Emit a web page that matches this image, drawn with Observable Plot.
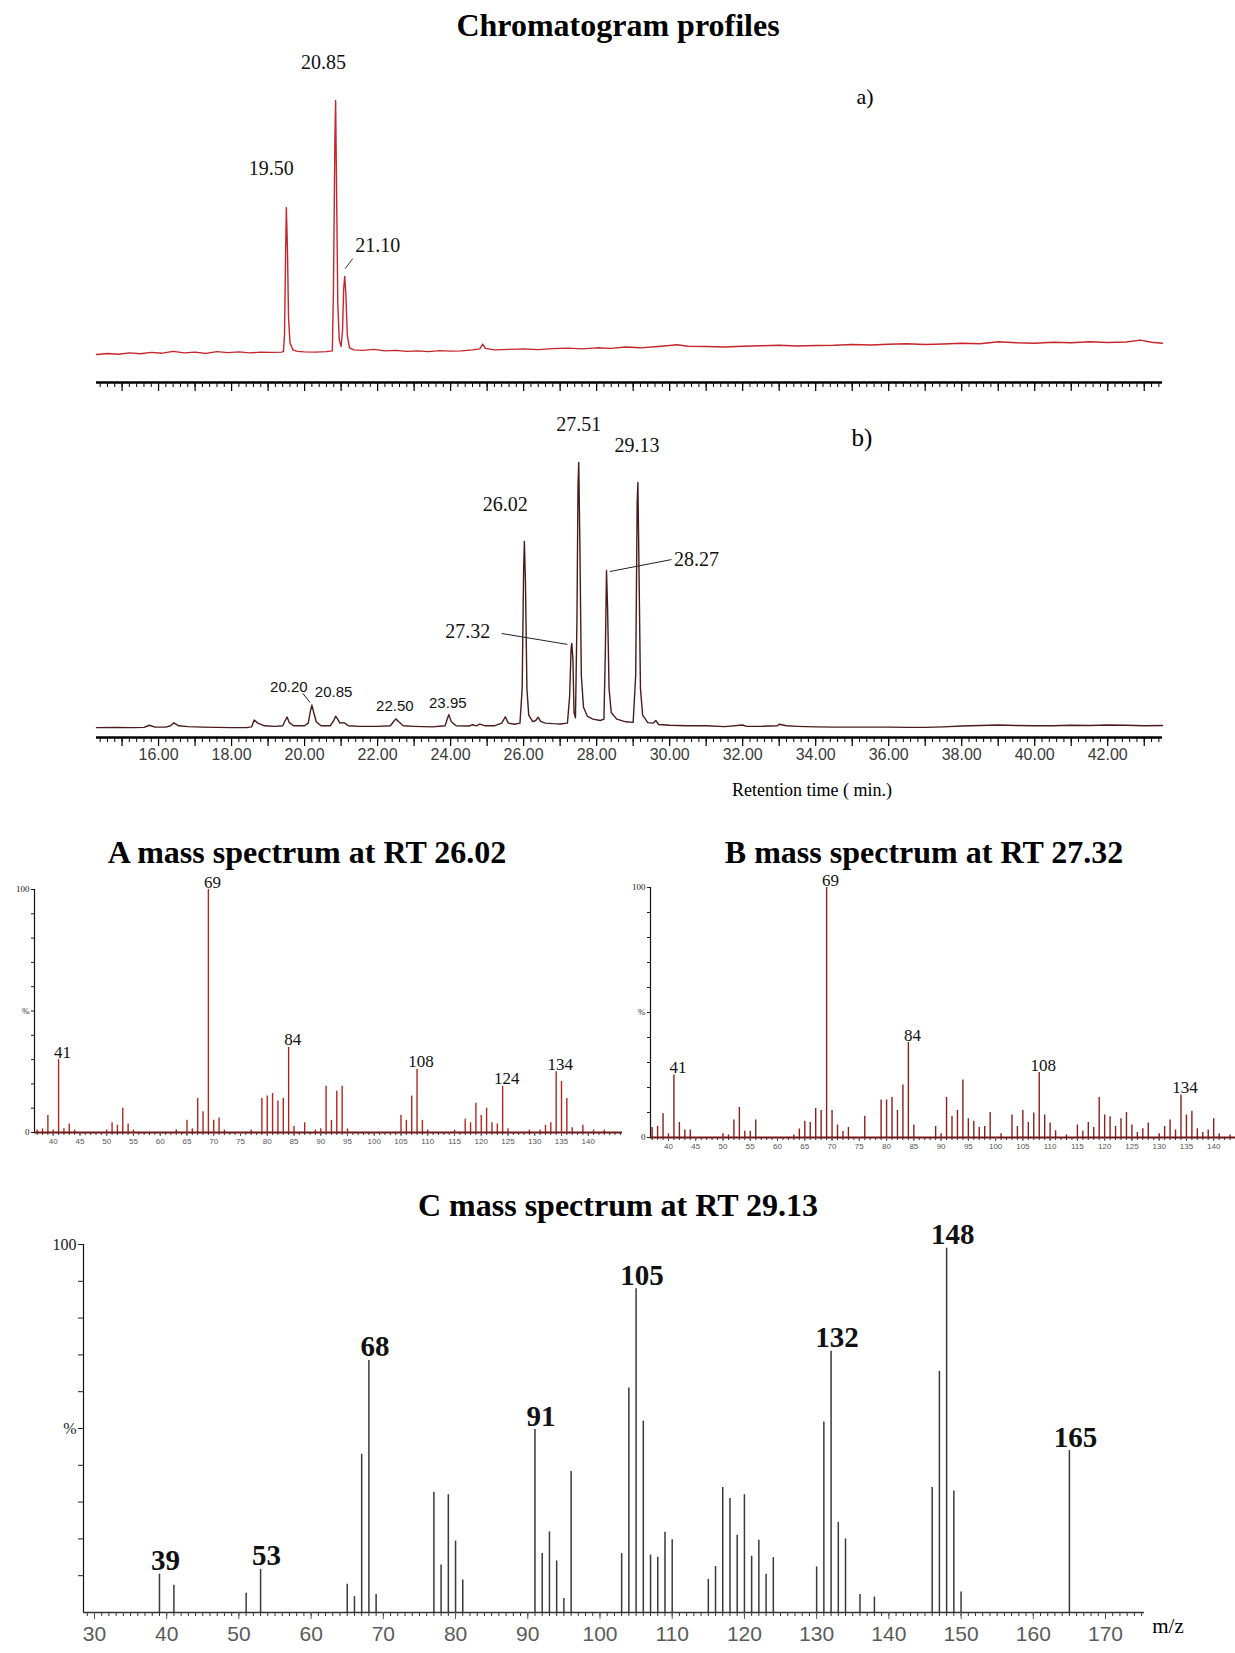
<!DOCTYPE html>
<html><head><meta charset="utf-8">
<script src="https://cdn.jsdelivr.net/npm/d3@7"></script>
<script src="https://cdn.jsdelivr.net/npm/@observablehq/plot@0.6"></script>
<style>
body{margin:0;background:#fff;}
#page{position:relative;width:1235px;height:1653px;overflow:hidden;background:#fff;}
.lbl{position:absolute;transform:translate(-50%,-50%);white-space:nowrap;line-height:1;color:#000;}
</style></head><body><div id="page"></div>
<script>
// ================= DATA =================
// Chromatogram tick labels (retention time, min)
const rtTickLabels = [16, 18, 20, 22, 24, 26, 28, 30, 32, 34, 36, 38, 40, 42];

// Chromatogram a) trace: [retention time, relative intensity %]
const aTrace = [
  [14.30,0.4],[14.6,0.8],[14.9,0.5],[15.2,1.0],[15.5,0.7],[15.8,1.2],[16.1,0.9],[16.4,1.6],[16.7,1.0],[17.0,1.3],
  [17.3,0.8],[17.6,1.5],[17.9,1.1],[18.2,1.4],[18.5,1.0],[18.8,1.3],[19.1,1.2],[19.38,1.3],
  [19.42,1.6],[19.45,8],[19.48,40],[19.50,58],[19.53,42],[19.56,15],[19.60,5],[19.68,2.2],[19.8,1.6],[20.0,1.4],
  [20.3,1.3],[20.6,1.5],[20.76,1.8],[20.79,25],[20.83,85],[20.85,100],[20.88,60],[20.91,20],[20.95,6],[21.00,3.5],
  [21.04,10],[21.07,26],[21.10,31],[21.13,24],[21.17,8],[21.23,3],[21.35,2.2],[21.6,2.0],[21.9,2.4],[22.2,1.8],
  [22.5,2.0],[22.8,1.6],[23.1,1.8],[23.4,1.5],[23.7,1.9],[24.0,1.7],[24.3,1.8],[24.6,2.2],[24.8,2.6],[24.88,4.5],
  [24.95,2.8],[25.2,2.2],[25.6,2.4],[26.0,2.6],[26.4,2.3],[26.8,2.7],[27.2,2.9],[27.6,2.6],[28.0,3.0],[28.4,2.8],
  [28.8,3.3],[29.2,3.0],[29.6,3.4],[30.0,3.9],[30.2,4.2],[30.5,3.6],[31.0,3.5],[31.5,3.3],[32.0,3.6],[32.5,3.8],
  [33.0,4.0],[33.5,3.7],[34.0,3.9],[34.5,4.0],[35.0,4.3],[35.5,4.1],[36.0,4.4],[36.5,4.6],[37.0,4.3],[37.5,4.5],
  [38.0,4.8],[38.5,4.6],[39.0,5.4],[39.5,5.0],[40.0,4.8],[40.5,5.2],[41.0,5.0],[41.5,5.4],[42.0,5.1],[42.5,5.3],
  [42.9,6.0],[43.2,5.2],[43.5,4.8]
];
const aPeakRT = [19.50, 20.85, 21.10];
const aPeakHeight = [58, 100, 31];

// Chromatogram b) trace: [retention time, relative intensity %]
const bTrace = [
  [14.3,0.3],[14.8,0.4],[15.3,0.3],[15.6,0.4],[15.75,1.2],[15.9,0.5],[16.2,0.5],[16.33,1.0],[16.42,2.1],[16.55,1.0],
  [16.8,0.7],[17.2,0.5],[17.6,0.4],[18.0,0.3],[18.4,0.3],[18.55,0.6],[18.62,3.2],[18.72,2.0],[18.9,1.0],[19.2,0.8],
  [19.4,1.0],[19.47,3.0],[19.52,4.3],[19.58,2.2],[19.7,1.0],[20.0,1.0],[20.1,2.0],[20.16,6.5],[20.20,8.8],[20.25,6.0],
  [20.32,2.5],[20.45,1.0],[20.7,1.0],[20.8,3.0],[20.85,4.6],[20.9,3.6],[20.97,2.0],[21.05,2.2],[21.1,2.0],[21.2,1.0],
  [21.5,0.8],[22.0,0.8],[22.35,1.0],[22.45,2.8],[22.50,3.6],[22.58,2.5],[22.7,1.0],[23.0,0.8],[23.5,0.6],[23.85,1.0],
  [23.92,4.0],[23.95,5.2],[24.02,2.5],[24.15,1.0],[24.5,0.9],[24.6,1.4],[24.7,1.0],[24.8,1.6],[24.95,1.0],[25.2,1.0],
  [25.4,2.0],[25.5,4.4],[25.58,2.0],[25.75,1.6],[25.9,2.0],[25.96,15],[26.00,60],[26.02,70.3],[26.05,55],[26.09,15],
  [26.14,5],[26.25,2.6],[26.33,3.0],[26.40,4.2],[26.47,2.6],[26.6,2.0],[26.8,1.8],[27.0,1.7],[27.2,2.0],[27.26,12],
  [27.30,30],[27.32,32],[27.35,26],[27.38,6],[27.42,4],[27.46,40],[27.49,92],[27.51,100],[27.54,70],[27.58,20],
  [27.64,8],[27.75,4.5],[27.9,3.5],[28.1,3.0],[28.2,3.5],[28.24,30],[28.27,59.4],[28.30,45],[28.34,15],[28.40,6],
  [28.55,3.5],[28.8,2.5],[29.0,2.3],[29.07,20],[29.11,85],[29.13,92.5],[29.16,60],[29.2,15],[29.26,5],[29.4,2.2],
  [29.55,2.0],[29.62,3.0],[29.7,1.5],[30.0,1.2],[30.5,1.0],[31.0,1.0],[31.5,0.7],[32.0,1.3],[32.1,0.8],[32.5,0.8],
  [32.95,1.0],[33.0,1.6],[33.2,1.0],[33.5,0.8],[34.0,0.6],[34.5,0.5],[35.0,0.5],[35.5,0.5],[36.0,0.5],[36.5,0.4],
  [37.0,0.4],[37.5,0.6],[38.0,0.9],[38.5,1.1],[39.0,1.3],[39.5,1.1],[40.0,1.0],[40.5,1.0],[41.0,1.2],[41.5,1.1],
  [42.0,1.3],[42.5,1.2],[43.0,1.0],[43.5,1.1]
];
const bPeakRT = [20.20, 20.85, 22.50, 23.95, 26.02, 27.32, 27.51, 28.27, 29.13];
const bPeakHeight = [8.8, 4.6, 3.6, 5.2, 70.3, 32, 100, 59.4, 92.5];

// Mass spectrum A (RT 26.02): [m/z, relative abundance %]
const specA = [
  [37,1],[38,1.5],[39,7],[40,1],[41,30],[42,1.5],[43,3.5],[44,1],[50,1],[51,4],[52,3],[53,10],[54,3.5],[55,1],
  [63,1],[65,5],[66,1.5],[67,14],[68,8.5],[69,100],[70,5],[71,6],[72,1],[77,1],[79,14],[80,15],[81,16],[82,13],
  [83,14],[84,35],[85,2.5],[87,4],[89,1],[90,1.5],[91,19],[92,5],[93,17],[94,19],[95,1.5],[105,7],[106,5],[107,15],
  [108,26],[109,5],[110,1],[115,1],[117,5.5],[118,4],[119,12],[120,7],[121,10],[122,4],[123,3.5],[124,19],[125,1.5],
  [129,1],[131,1],[132,3],[133,4],[134,25],[135,21],[136,14],[137,2],[139,3],[141,1],[143,1]
];
const specALabels = [41, 69, 84, 108, 124, 134];
const specATicks = [40,45,50,55,60,65,70,75,80,85,90,95,100,105,110,115,120,125,130,135,140];

// Mass spectrum B (RT 27.32)
const specB = [
  [37,4],[38,4.5],[39,9.5],[40,1.5],[41,25],[42,6],[43,3],[44,3],[50,1.5],[51,1],[52,7],[53,12],[54,2.5],[55,2.5],
  [56,7],[63,1],[64,3.4],[65,6.5],[66,6],[67,11.6],[68,10.8],[69,100],[70,10.8],[71,5],[72,2.4],[73,4],[76,8.5],
  [79,15],[80,15],[81,16],[82,10.8],[83,21],[84,38],[85,5],[89,4.4],[90,1.5],[91,16],[92,8.5],[93,10.8],[94,23],
  [95,7.5],[96,6.5],[97,4],[98,4.4],[99,10],[101,1.5],[103,9],[104,4.4],[105,10.8],[106,6],[107,9.8],[108,26],
  [109,9],[110,5.8],[111,2.7],[113,1],[115,5],[116,2.5],[117,6],[118,4],[119,16],[120,9],[121,8.3],[122,4.4],
  [123,7.5],[124,10],[125,5],[126,2],[127,3.5],[128,5.8],[130,1.5],[131,4.4],[132,7],[133,3],[134,17],[135,9],
  [136,10.5],[137,3.5],[138,2],[139,3],[140,7.5],[141,1.5],[143,1]
];
const specBLabels = [41, 69, 84, 108, 134];
const specBTicks = [40,45,50,55,60,65,70,75,80,85,90,95,100,105,110,115,120,125,130,135,140];

// Mass spectrum C (RT 29.13)
const specC = [
  [39,10.4],[41,7.4],[51,5.2],[53,11.7],[65,7.7],[66,4.3],[67,43],[68,68.5],[69,4.9],[77,32.7],[78,12.9],[79,32],
  [80,19.4],[81,8.8],[91,49.7],[92,16],[93,21.9],[94,14],[95,3.8],[96,38.3],[103,16],[104,61],[105,88],[106,52],
  [107,15.6],[108,15],[109,21.8],[110,19.8],[115,9],[116,12.5],[117,34],[118,31],[119,21],[120,32],[121,15.3],
  [122,19.6],[123,10.4],[124,14.9],[130,12.4],[131,51.8],[132,71],[133,24.5],[134,20],[136,4.9],[138,4.2],
  [146,34],[147,65.5],[148,99],[149,33],[150,5.6],[165,44]
];
const specCLabels = [39, 53, 68, 91, 105, 132, 148, 165];
const specCTicks = [30,40,50,60,70,80,90,100,110,120,130,140,150,160,170];

// ================= LAYOUT =================
const page = document.getElementById("page");
const SERIF = "Liberation Serif, Times New Roman, serif";
const SANS = "Liberation Sans, Arial, sans-serif";

function place(svg, left, top) {
  svg.style.position = "absolute";
  svg.style.left = left + "px";
  svg.style.top = top + "px";
  svg.style.maxWidth = "none";
  page.appendChild(svg);
}
function htmlText(text, cx, cy, css) {
  const d = document.createElement("div");
  d.className = "lbl";
  d.textContent = text;
  d.style.left = cx + "px";
  d.style.top = cy + "px";
  d.style.cssText += css;
  page.appendChild(d);
}

const rtDomain = [14.3, 43.5];
const rtMinor = d3.range(72, 218).map(i => i / 5);
const rtMajor = d3.range(15, 44);

function chromAxis(floor, withLabels) {
  const m = [
    Plot.axisX({ticks: rtMinor, tickSize: 5, tickFormat: () => "", strokeWidth: 1}),
    Plot.axisX({ticks: rtMajor, tickSize: 9, tickFormat: () => "", strokeWidth: 1.2}),
    Plot.ruleY([floor], {stroke: "#000", strokeWidth: 2.6})
  ];
  if (withLabels) m.push(Plot.axisX({ticks: rtTickLabels, tickSize: 0, tickPadding: 11,
    tickFormat: d => d.toFixed(2), fontSize: 16, fontFamily: SANS, color: "#3a3a3a"}));
  return m;
}

function peakLabels(rts, hs, styles) {
  return rts.map((rt, i) => {
    const key = rt.toFixed(2);
    const s = styles[key];
    return Plot.text([{rt, h: hs[i], label: key}], {
      x: "rt", y: "h", text: "label", dx: s.dx, dy: s.dy,
      fontSize: s.size, fontFamily: s.font, fill: "#111", lineAnchor: "middle", textAnchor: "middle"
    });
  });
}

// ---- Chromatogram a ----
const aFloor = -10.6;
const aStyles = {
  "19.50": {dx: -15, dy: -39, size: 20, font: SERIF},
  "20.85": {dx: -12, dy: -38, size: 20, font: SERIF},
  "21.10": {dx: 33, dy: -31, size: 20, font: SERIF}
};
const aLeaders = [{x1: 21.32, y1: 38.0, x2: 21.11, y2: 34.0}];
const plotA = Plot.plot({
  width: 1235, height: 362, marginLeft: 96, marginRight: 73, marginTop: 60, marginBottom: 20,
  style: {background: "transparent", overflow: "visible"},
  x: {domain: rtDomain}, y: {domain: [aFloor, 100], axis: null},
  marks: [
    Plot.line(aTrace, {x: d => d[0], y: d => d[1], stroke: "#c4262c", strokeWidth: 1.4}),
    ...chromAxis(aFloor, false),
    Plot.link(aLeaders, {x1: "x1", y1: "y1", x2: "x2", y2: "y2", stroke: "#333", strokeWidth: 1}),
    ...peakLabels(aPeakRT, aPeakHeight, aStyles)
  ]
});
place(plotA, 0, 40);

// ---- Chromatogram b ----
const bFloor = -3.4;
const bStyles = {
  "20.20": {dx: -23, dy: -18, size: 15, font: SANS},
  "20.85": {dx: -2, dy: -24, size: 15, font: SANS},
  "22.50": {dx: -1, dy: -13, size: 15, font: SANS},
  "23.95": {dx: -1, dy: -11, size: 15, font: SANS},
  "26.02": {dx: -19, dy: -37, size: 20, font: SERIF},
  "27.32": {dx: -104, dy: -12, size: 20, font: SERIF},
  "27.51": {dx: 0, dy: -38, size: 20, font: SERIF},
  "28.27": {dx: 90, dy: -11, size: 20, font: SERIF},
  "29.13": {dx: -1, dy: -37, size: 20, font: SERIF}
};
const bLeaders = [
  {x1: 30.05, y1: 63.5, x2: 28.36, y2: 59.0},
  {x1: 25.40, y1: 35.7, x2: 27.20, y2: 31.6},
  {x1: 19.95, y1: 13.2, x2: 20.15, y2: 9.8}
];
const plotB = Plot.plot({
  width: 1235, height: 367, marginLeft: 96, marginRight: 73, marginTop: 62, marginBottom: 30,
  style: {background: "transparent", overflow: "visible"},
  x: {domain: rtDomain}, y: {domain: [bFloor, 100], axis: null},
  marks: [
    Plot.line(bTrace, {x: d => d[0], y: d => d[1], stroke: "#4a1c1c", strokeWidth: 1.4}),
    ...chromAxis(bFloor, true),
    Plot.link(bLeaders, {x1: "x1", y1: "y1", x2: "x2", y2: "y2", stroke: "#222", strokeWidth: 1}),
    ...peakLabels(bPeakRT, bPeakHeight, bStyles)
  ]
});
place(plotB, 0, 400);

// ---- Mass spectra ----
function spectrum(o) {
  const lab = o.data.filter(d => o.labels.includes(d[0]));
  const yTickFmt = d => d === 100 ? "100" : d === 50 ? "%" : (d === 0 && o.zeroLabel) ? "0" : "";
  return Plot.plot({
    width: o.width, height: o.height, marginLeft: o.mL, marginRight: o.mR, marginTop: o.mT, marginBottom: o.mB,
    style: {background: "transparent", overflow: "visible"},
    x: {domain: o.domain}, y: {domain: [0, 100], axis: null},
    marks: [
      Plot.ruleX(o.data, {x: d => d[0], y1: 0, y2: d => d[1], stroke: o.color, strokeWidth: o.barWidth}),
      Plot.ruleY([0], {stroke: o.baseColor, strokeWidth: o.baseWidth}),
      Plot.ruleX([o.domain[0]], {y1: 0, y2: 100, stroke: "#111", strokeWidth: 1.2}),
      Plot.axisY({ticks: d3.range(o.zeroLabel ? 0 : 10, 101, 10), tickSize: o.yTick, tickPadding: 2,
        tickFormat: yTickFmt, fontSize: o.yFont, fontFamily: SERIF, color: "#222"}),
      Plot.axisX({ticks: d3.range(Math.ceil(o.domain[0]), Math.floor(o.domain[1]) + 1), tickSize: o.minorTick,
        tickFormat: () => "", color: "#333"}),
      Plot.axisX({ticks: o.ticks, tickSize: o.majorTick, tickPadding: o.tickPad, tickFormat: d => String(d),
        fontSize: o.xFont, fontFamily: SANS, color: o.xColor}),
      Plot.text(lab, {x: d => d[0], y: d => d[1], text: d => String(d[0]), dx: o.ldx, dy: o.ldy,
        lineAnchor: "bottom", fontSize: o.lFont, fontWeight: o.lWeight, fontFamily: SERIF, fill: "#111"})
    ]
  });
}

place(spectrum({
  data: specA, labels: specALabels, ticks: specATicks, domain: [36.5, 146.4],
  width: 625, height: 292, mL: 34, mR: 3, mT: 27, mB: 22,
  color: "#b3261e", barWidth: 1.4, baseColor: "#7a1414", baseWidth: 2,
  yTick: 3, yFont: 9, zeroLabel: true, minorTick: 3, majorTick: 4, tickPad: 2, xFont: 8, xColor: "#555",
  ldx: 4, ldy: -2, lFont: 17, lWeight: "normal"
}), 0, 862);

place(spectrum({
  data: specB, labels: specBLabels, ticks: specBTicks, domain: [36.7, 144.0],
  width: 615, height: 299, mL: 30, mR: 0, mT: 27, mB: 22,
  color: "#8c1e1e", barWidth: 1.4, baseColor: "#7a1414", baseWidth: 2,
  yTick: 3, yFont: 9, zeroLabel: true, minorTick: 3, majorTick: 4, tickPad: 2, xFont: 8, xColor: "#555",
  ldx: 4, ldy: -2, lFont: 17, lWeight: "normal"
}), 620, 860);

place(spectrum({
  data: specC, labels: specCLabels, ticks: specCTicks, domain: [28.48, 175.4],
  width: 1235, height: 438, mL: 83, mR: 91, mT: 29, mB: 41,
  color: "#3a3a3a", barWidth: 1.5, baseColor: "#333", baseWidth: 1.6,
  yTick: 5, yFont: 16, zeroLabel: false, minorTick: 4, majorTick: 7, tickPad: 7, xFont: 21, xColor: "#5a5a5a",
  ldx: 6, ldy: -4, lFont: 29, lWeight: "bold"
}), 0, 1215);

// ---- Titles and free text ----
const titleCss = `font:bold 32px ${SERIF};`;
htmlText("Chromatogram profiles", 618, 25, titleCss);
htmlText("a)", 865, 97, `font:22px ${SERIF};`);
htmlText("b)", 862, 438, `font:25px ${SERIF};`);
htmlText("Retention time ( min.)", 812, 790, `font:18px ${SERIF};`);
htmlText("A mass spectrum at RT 26.02", 307, 852, titleCss);
htmlText("B mass spectrum at RT 27.32", 924, 852, titleCss);
htmlText("C mass spectrum at RT 29.13", 618, 1205, titleCss);
htmlText("m/z", 1168, 1626, `font:21px ${SERIF};`);
</script></body></html>
